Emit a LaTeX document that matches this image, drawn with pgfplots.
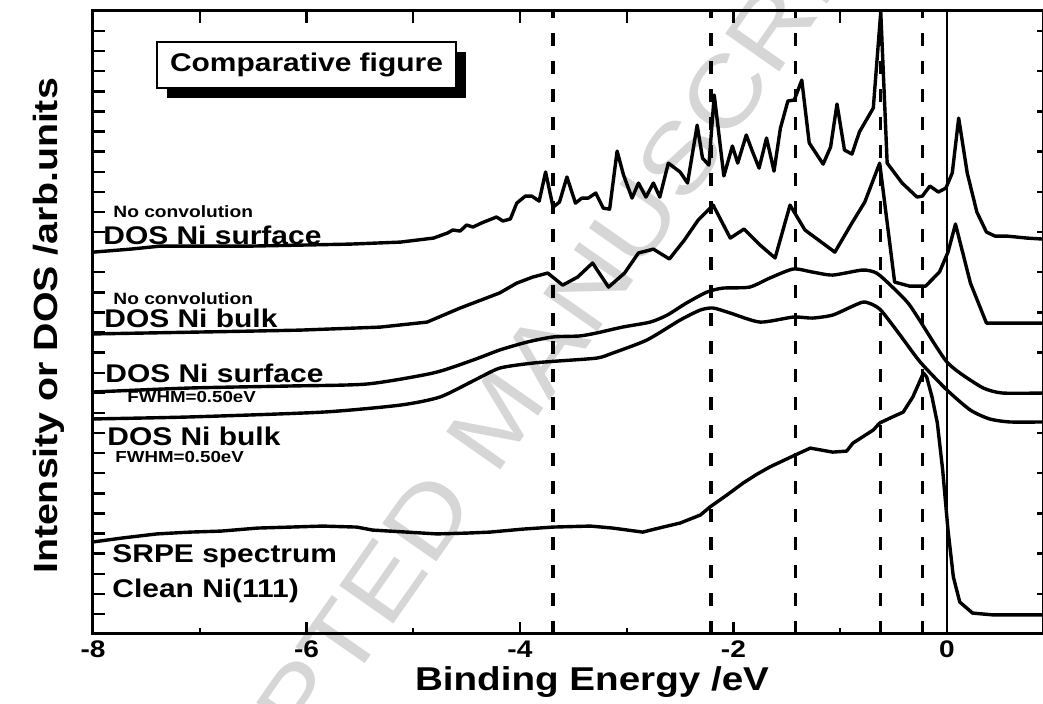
\documentclass[border=0pt]{standalone}
\usepackage{pgfplots}
\pgfplotsset{compat=1.18}
\usepackage{fontspec}
\setmainfont{Liberation Sans}[FakeStretch=1.17]
\usetikzlibrary{shadows}

\newcommand{\fs}[1]{\fontsize{#1}{#1}\selectfont\bfseries}

\begin{document}
\begin{tikzpicture}
\useasboundingbox (-46.5pt,-35pt) rectangle (475pt,317pt);

% watermark
\node[rotate=55, text=black!16, font=\fontsize{48}{48}\selectfont] at (202pt,108pt) {ACCEPTED MANUSCRIPT};

\begin{axis}[
  scale only axis, width=475pt, height=311.5pt,
  xmin=-8, xmax=0.9, ymin=0, ymax=31,
  axis line style={line width=1.5pt},
  xtick={-8,-6,-4,-2,0}, xticklabels={-8,-6,-4,-2,0},
  minor xtick={-7,-5,-3,-1},
  xtick pos=left, ytick pos=left,
  ytick={0,1,...,31}, yticklabels={},
  tick align=inside,
  major tick length=6pt, minor tick length=3pt,
  every tick/.style={line width=1.2pt, black},
  xticklabel style={font=\fs{12}},
  crv/.style={black, line width=1.7pt, line join=round, mark=none},
  ref/.style={black, line width=1.6pt, mark=none, dash pattern=on 6.7pt off 7.3pt},
]
% DOS Ni surface, no convolution
\addplot[crv] coordinates {
(-8.00,19.00) (-7.65,19.15) (-7.37,19.30) (-6.53,19.30) (-6.06,19.35) (-5.59,19.40) (-5.12,19.50) (-4.81,19.70)
(-4.68,19.95) (-4.63,20.10) (-4.56,20.05) (-4.50,20.35) (-4.44,20.25) (-4.36,20.45) (-4.22,20.75) (-4.16,20.55)
(-4.09,20.65) (-4.03,21.44) (-3.95,21.79) (-3.89,21.79) (-3.82,21.54) (-3.76,22.99) (-3.69,21.24) (-3.63,21.49)
(-3.56,22.74) (-3.48,21.44) (-3.42,21.69) (-3.36,21.69) (-3.29,21.94) (-3.22,21.19) (-3.16,21.14) (-3.09,24.03)
(-3.03,22.84) (-2.95,21.69) (-2.89,22.44) (-2.82,21.74) (-2.75,22.44) (-2.69,21.74) (-2.61,23.43) (-2.50,22.99)
(-2.43,22.44) (-2.34,25.32) (-2.29,23.68) (-2.23,23.33) (-2.18,26.82) (-2.09,22.79) (-2.01,24.28) (-1.96,23.43)
(-1.88,24.83) (-1.82,23.98) (-1.76,23.18) (-1.69,24.68) (-1.62,23.03) (-1.56,25.17) (-1.49,26.52) (-1.43,26.57)
(-1.36,27.56) (-1.29,24.43) (-1.16,23.38) (-1.09,24.23) (-1.03,26.37) (-0.96,24.08) (-0.89,23.88) (-0.82,24.98)
(-0.69,26.17) (-0.62,30.95) (-0.56,23.43) (-0.42,22.44) (-0.28,21.74) (-0.23,21.79) (-0.16,22.29) (-0.08,21.99)
(-0.01,22.19) (0.05,22.94) (0.11,25.67) (0.19,22.94) (0.28,21.00) (0.37,20.00) (0.45,19.80) (0.56,19.80)
(0.75,19.70) (0.90,19.65)
};
% DOS Ni bulk, no convolution
\addplot[crv] coordinates {
(-8.00,14.93) (-7.47,14.98) (-6.53,15.07) (-6.06,15.12) (-5.31,15.27) (-4.87,15.52) (-4.56,16.22) (-4.19,16.97)
(-4.03,17.46) (-3.88,17.76) (-3.74,17.96) (-3.60,17.36) (-3.46,17.76) (-3.32,18.46) (-3.17,17.26) (-3.02,17.96)
(-2.89,18.96) (-2.75,19.15) (-2.60,18.66) (-2.46,19.60) (-2.33,20.60) (-2.19,21.34) (-2.03,19.70) (-1.90,20.15)
(-1.75,19.35) (-1.61,18.71) (-1.47,21.34) (-1.33,20.10) (-1.05,19.00) (-0.89,20.45) (-0.77,21.49) (-0.63,23.43)
(-0.49,17.51) (-0.35,17.31) (-0.20,17.31) (-0.07,18.01) (0.01,19.00) (0.08,20.40) (0.22,17.46) (0.37,15.47)
(0.56,15.47) (0.90,15.47)
};
% DOS Ni surface, FWHM 0.50 eV
\addplot[crv, smooth, tension=0.4] coordinates {
(-8.00,12.04) (-7.09,12.24) (-6.15,12.34) (-5.43,12.44) (-4.81,12.99) (-4.44,13.63) (-4.19,14.13) (-3.93,14.53)
(-3.69,14.78) (-3.44,14.83) (-3.28,14.98) (-3.04,15.27) (-2.78,15.52) (-2.62,15.87) (-2.44,16.47) (-2.25,17.01)
(-2.10,17.21) (-1.85,17.26) (-1.66,17.71) (-1.44,18.16) (-1.26,18.01) (-1.07,17.86) (-0.79,18.11) (-0.66,17.96)
(-0.53,17.36) (-0.35,16.37) (-0.11,14.38) (0.00,13.53) (0.12,12.99) (0.34,12.24) (0.52,11.99) (0.90,11.99)
};
% DOS Ni bulk, FWHM 0.50 eV
\addplot[crv, smooth, tension=0.4] coordinates {
(-8.00,10.70) (-7.09,10.80) (-5.85,11.04) (-5.12,11.39) (-4.75,11.79) (-4.44,12.59) (-4.19,13.23) (-3.88,13.48)
(-3.65,13.58) (-3.28,13.73) (-3.13,13.98) (-2.81,14.63) (-2.50,15.62) (-2.31,16.12) (-2.19,16.22) (-2.03,15.97)
(-1.75,15.52) (-1.44,15.77) (-1.26,15.72) (-1.07,15.87) (-0.88,16.32) (-0.77,16.52) (-0.63,16.17) (-0.44,14.88)
(-0.25,13.53) (0.00,12.14) (0.22,11.14) (0.40,10.70) (0.59,10.55) (0.90,10.55)
};
% SRPE spectrum, clean Ni(111)
\addplot[crv] coordinates {
(-8.00,4.58) (-7.72,4.78) (-7.40,4.98) (-7.09,5.07) (-6.80,5.12) (-6.46,5.27) (-6.15,5.32) (-5.85,5.37)
(-5.53,5.32) (-5.38,5.17) (-5.06,5.07) (-4.78,4.98) (-4.50,5.02) (-4.28,5.07) (-3.97,5.22) (-3.69,5.32)
(-3.34,5.37) (-3.13,5.27) (-2.85,5.07) (-2.66,5.32) (-2.50,5.52) (-2.31,5.92) (-2.22,6.32) (-2.06,6.92)
(-1.91,7.51) (-1.78,7.95) (-1.66,8.31) (-1.44,8.86) (-1.28,9.25) (-1.07,9.05) (-0.94,9.10) (-0.88,9.50)
(-0.69,10.15) (-0.63,10.50) (-0.51,10.80) (-0.41,11.04) (-0.32,11.79) (-0.22,12.99) (-0.19,12.79) (-0.14,11.80)
(-0.09,10.50) (-0.04,8.16) (0.01,5.17) (0.06,2.84) (0.12,1.59) (0.24,1.04) (0.43,0.95) (0.90,0.95)
};
% reference lines
\addplot[ref] coordinates {(-3.69,0) (-3.69,31)};
\addplot[ref] coordinates {(-2.21,0) (-2.21,31)};
\addplot[ref] coordinates {(-1.42,0) (-1.42,31)};
\addplot[ref] coordinates {(-0.62,0) (-0.62,31)};
\addplot[ref] coordinates {(-0.23,0) (-0.23,31)};
\addplot[black, line width=1.4pt, mark=none] coordinates {(0,0) (0,31)};
\end{axis}

% top ticks
\begin{axis}[
  scale only axis, width=475pt, height=311.5pt,
  xmin=-8, xmax=0.9, ymin=0, ymax=31,
  axis line style={draw=none},
  xtick={-8,-7,...,0}, xticklabels={}, xtick pos=right,
  ytick=\empty, tick align=inside, major tick length=6pt,
  every tick/.style={line width=1.2pt, black},
]
\end{axis}
% right ticks
\begin{axis}[
  scale only axis, width=475pt, height=311.5pt,
  xmin=-8, xmax=0.9, ymin=0, ymax=31,
  axis line style={draw=none},
  ytick={2,4,...,30}, yticklabels={}, ytick pos=right,
  xtick=\empty, tick align=inside, major tick length=3pt,
  every tick/.style={line width=1.2pt, black},
]
\end{axis}

% curve labels
\begin{scope}[every node/.style={anchor=base west, inner sep=0pt}]
\node[font=\fs{8.2}] at (10pt,208pt) {No convolution};
\node[font=\fs{12.8}] at (5pt,194.5pt) {DOS Ni surface};
\node[font=\fs{8.2}] at (10pt,164.5pt) {No convolution};
\node[font=\fs{12.8}] at (5.5pt,153pt) {DOS Ni bulk};
\node[font=\fs{12.8}] at (6pt,125.5pt) {DOS Ni surface};
\node[font=\fs{8}] at (17pt,115.5pt) {FWHM=0.50eV};
\node[font=\fs{12.8}] at (7pt,94pt) {DOS Ni bulk};
\node[font=\fs{8}] at (11pt,85.5pt) {FWHM=0.50eV};
\node[font=\fs{12.8}] at (9.5pt,35.5pt) {SRPE spectrum};
\node[font=\fs{12.8}] at (9.5pt,18pt) {Clean Ni(111)};
\end{scope}

% title box
\node[draw, line width=0.8pt, fill=white, minimum width=149.5pt, minimum height=23pt,
  drop shadow={shadow xshift=5pt, shadow yshift=-5pt, fill=black, opacity=1},
  font=\fs{12.8}] at (106.75pt,284.5pt) {Comparative figure};

% axis titles
\node[anchor=base, inner sep=0pt, font=\fs{16.5}] at (249.5pt,-28.5pt) {Binding Energy /eV};
\node[anchor=base, inner sep=0pt, rotate=90, font=\fs{16.8}] at (-18pt,154pt) {Intensity or DOS /arb.units};
\end{tikzpicture}
\end{document}
